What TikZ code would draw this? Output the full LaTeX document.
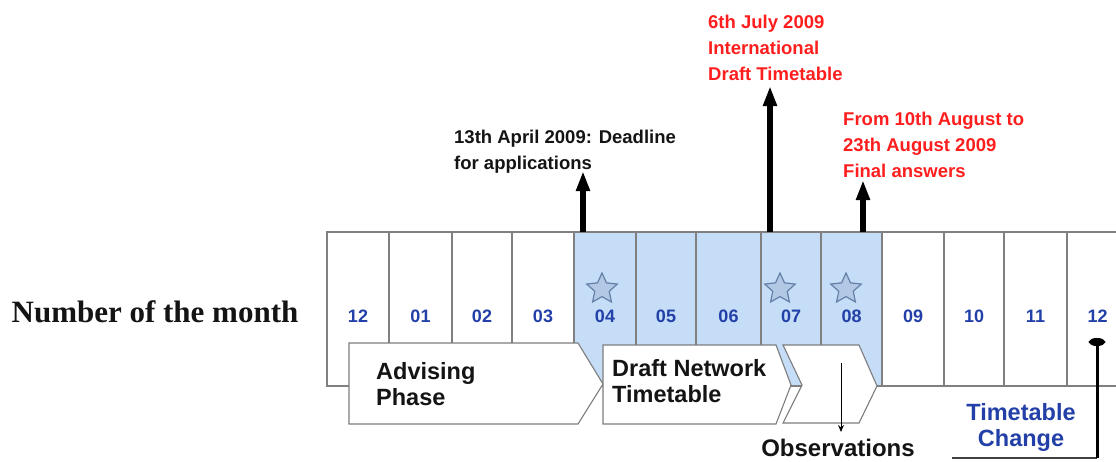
\documentclass[tikz,border=0pt]{standalone}
\usepackage{fontspec}
\setmainfont{Liberation Sans}
\newfontfamily\rowfont{Liberation Serif}
\usetikzlibrary{arrows.meta,shapes.geometric}
\definecolor{cellblue}{RGB}{198,221,247}
\definecolor{numblue}{RGB}{34,64,168}
\definecolor{starfill}{RGB}{178,200,228}
\definecolor{starline}{RGB}{100,128,168}
\definecolor{gridgray}{RGB}{128,128,128}
\definecolor{boxline}{RGB}{125,125,125}
\definecolor{annred}{RGB}{255,30,30}
\definecolor{txtblack}{RGB}{20,20,20}
\tikzset{
 cell/.style={draw=gridgray, line width=1.1pt, minimum height=154pt, inner sep=0pt, outer sep=0pt},
 num/.style={text=numblue, font=\fontsize{18}{20}\selectfont\bfseries, inner sep=0pt},
 mstar/.style={star, star points=5, star point ratio=2.1, minimum size=32pt, inner sep=0pt, draw=starline, fill=starfill, line width=1.2pt},
 phase/.style={draw=boxline, fill=white, line width=1.1pt, line join=miter},
 phasetext/.style={text=txtblack, font=\fontsize{23.5}{26.5}\selectfont\bfseries, align=left, inner sep=0pt, anchor=north west},
 ann/.style={font=\fontsize{18.5}{26}\selectfont\bfseries, align=left, inner sep=0pt, anchor=north west},
 bigarrow/.style={line width=5.5pt, -{Triangle[length=20pt,width=13pt]}},
}
\begin{document}
\begin{tikzpicture}[x=1pt,y=-1pt]
\useasboundingbox (0,0) rectangle (1116,461);
\clip (0,0) rectangle (1116,461);
% blue period
\fill[cellblue] (574,232) rectangle (882,386);
% month cells
\foreach \l/\r/\t/\n in {327/389/12/a, 389/452/01/b, 452/512/02/c, 512/574/03/d, 574/636/04/e, 636/696/05/f, 696/761/06/g, 761/821/07/h, 821/882/08/i, 882/944/09/j, 944/1004/10/k, 1004/1067/11/l, 1067/1128/12/m}{
  \pgfmathsetmacro{\w}{\r-\l}
  \pgfmathsetmacro{\cx}{(\l+\r)/2}
  \node[cell, minimum width=\w pt] (cell\n) at (\cx,309) {};
  \node[num] (num\n) at (\cx,316) {\t};
}
% stars
\node[mstar] (stE) at (602,289) {};
\node[mstar] (stH) at (780,289) {};
\node[mstar] (stI) at (846,289) {};
% row label
\node[inner sep=0pt, font=\rowfont\bfseries\fontsize{31}{34}\selectfont, text=txtblack] (rowlabel) at (155,312) {Number of the month};
% phase boxes
\draw[phase] (349,343) -- (578,343) -- (603,384) -- (578,424) -- (349,424) -- cycle;
\draw[phase] (603,345) -- (776,345) -- (791,385) -- (776,424) -- (603,424) -- cycle;
\draw[phase] (783,345) -- (859,345) -- (877,386) -- (859,423) -- (783,423) -- (802,385) -- cycle;
\node[phasetext] (advising) at (376,362) {Advising\\Phase};
\node[phasetext] (draft) at (612,359) {Draft Network\\Timetable};
\node[inner sep=0pt, anchor=base, text=txtblack, font=\fontsize{24}{26}\selectfont\bfseries] (obs) at (838,456) {Observations};
\node[inner sep=0pt, anchor=north, text=numblue, align=center, font=\fontsize{23.5}{26}\selectfont\bfseries] (tchange) at (1021,403) {Timetable\\Change};
% annotations
\node[ann, text=txtblack] (deadline) at (454,130) {13th April 2009: Deadline\\for applications};
\node[ann, text=annred] (july) at (708,15) {6th July 2009\\International\\Draft Timetable};
\node[ann, text=annred] (august) at (843,112) {From 10th August to\\23th August 2009\\Final answers};
% milestone arrows
\coordinate (tipA) at (583,171);
\coordinate (tipB) at (770,86);
\coordinate (tipC) at (863,180);
\draw[bigarrow] (tipA |- celle.north) -- (tipA);
\draw[bigarrow] (tipB |- cellh.north) -- (tipB);
\draw[bigarrow] (tipC |- celli.north) -- (tipC);
% observations arrow
\coordinate (obsTop) at (841,363);
\coordinate (obsEnd) at (841,432);
\draw[line width=1pt, -{Stealth[length=7pt,width=6pt]}] (obsTop) -- (obsEnd);
% timetable change connector
\coordinate (tcL) at (952,458);
\coordinate (tcR) at (1097,458);
\coordinate (tcT) at (1097,338);
\draw[line width=1.6pt, draw=darkgray] (tcL) -- (tcR);
\draw[line width=3pt, -{Ellipse[length=8pt,width=16pt]}] (tcR) -- (tcT);
\end{tikzpicture}
\end{document}
